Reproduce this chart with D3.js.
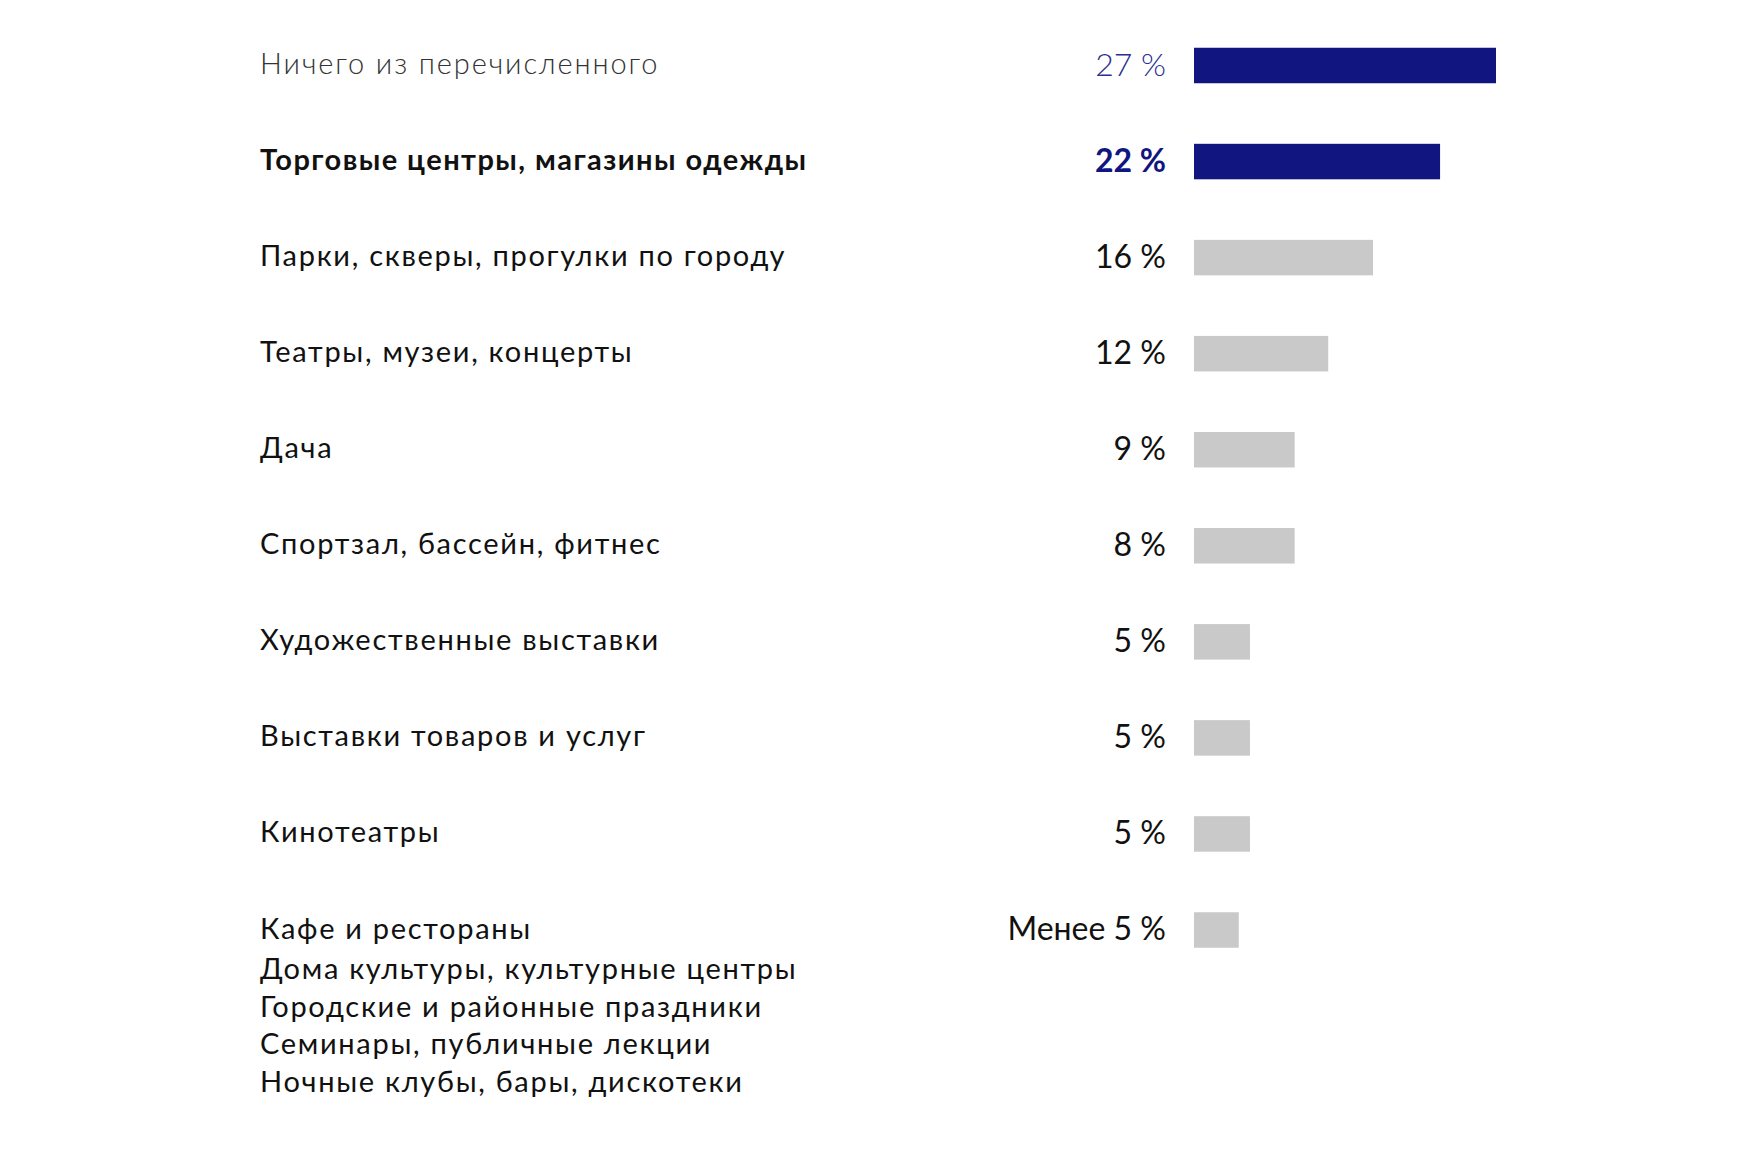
<!DOCTYPE html>
<html>
<head>
<meta charset="utf-8">
<script src="https://cdn.jsdelivr.net/npm/d3@7"></script>
<style>
html,body{margin:0;padding:0;background:#fff;}
svg{display:block;}
</style>
</head>
<body>
<svg id="chart" width="1754" height="1152"></svg>
<script>
const categories = [
  "Ничего из перечисленного",
  "Торговые центры, магазины одежды",
  "Парки, скверы, прогулки по городу",
  "Театры, музеи, концерты",
  "Дача",
  "Спортзал, бассейн, фитнес",
  "Художественные выставки",
  "Выставки товаров и услуг",
  "Кинотеатры",
  "Кафе и рестораны"
];
const extraLines = [
  "Дома культуры, культурные центры",
  "Городские и районные праздники",
  "Семинары, публичные лекции",
  "Ночные клубы, бары, дискотеки"
];
const values = [27, 22, 16, 12, 9, 9, 5, 5, 5, 4];
const valueLabels = ["27 %", "22 %", "16 %", "12 %", "9 %", "8 %", "5 %", "5 %", "5 %", "Менее 5 %"];
const highlight = [true, true, false, false, false, false, false, false, false, false];

const svg = d3.select("#chart");
const font = "Lato, 'Noto Sans', sans-serif";
const navy = "#101580";
const grey = "#c9c9c9";

const y = d3.scalePoint().domain(categories).range([65.5, 930]);
const x = d3.scaleLinear().domain([0, 27]).range([1194, 1496]);
const barH = 35.5;

// bars
svg.selectAll("rect.bar").data(categories).enter().append("rect")
  .attr("class", "bar")
  .attr("x", x(0))
  .attr("y", d => y(d) - barH / 2)
  .attr("width", (d, i) => x(values[i]) - x(0))
  .attr("height", barH)
  .attr("fill", (d, i) => highlight[i] ? navy : grey);

const weight = i => i === 0 ? 300 : (i === 1 ? 700 : 400);
const spacing = i => i === 0 ? 1.9 : (i === 1 ? 1.45 : 1.7);

// category labels
svg.selectAll("text.cat").data(categories).enter().append("text")
  .attr("class", "cat")
  .attr("x", 260)
  .attr("y", d => y(d) + 8.5)
  .attr("font-family", font)
  .attr("font-size", 29)
  .attr("font-weight", (d, i) => weight(i))
  .attr("letter-spacing", (d, i) => spacing(i))
  .attr("fill", (d, i) => i === 0 ? "#333" : "#111")
  .text(d => d);

// extra lines of last category
svg.selectAll("text.extra").data(extraLines).enter().append("text")
  .attr("class", "extra")
  .attr("x", 260)
  .attr("y", (d, i) => y(categories[categories.length - 1]) + 11 + (i + 1) * 37.8)
  .attr("font-family", font)
  .attr("font-size", 29)
  .attr("font-weight", 400)
  .attr("letter-spacing", 1.7)
  .attr("fill", "#111")
  .text(d => d);

// value labels
svg.selectAll("text.val").data(categories).enter().append("text")
  .attr("class", "val")
  .attr("x", 1166)
  .attr("y", d => y(d) + 10)
  .attr("text-anchor", "end")
  .attr("font-family", font)
  .attr("font-size", 32)
  .attr("font-weight", (d, i) => weight(i))
  .attr("fill", (d, i) => i === 0 ? "#2a2f90" : (i === 1 ? navy : "#111"))
  .text((d, i) => valueLabels[i]);
</script>
</body>
</html>
